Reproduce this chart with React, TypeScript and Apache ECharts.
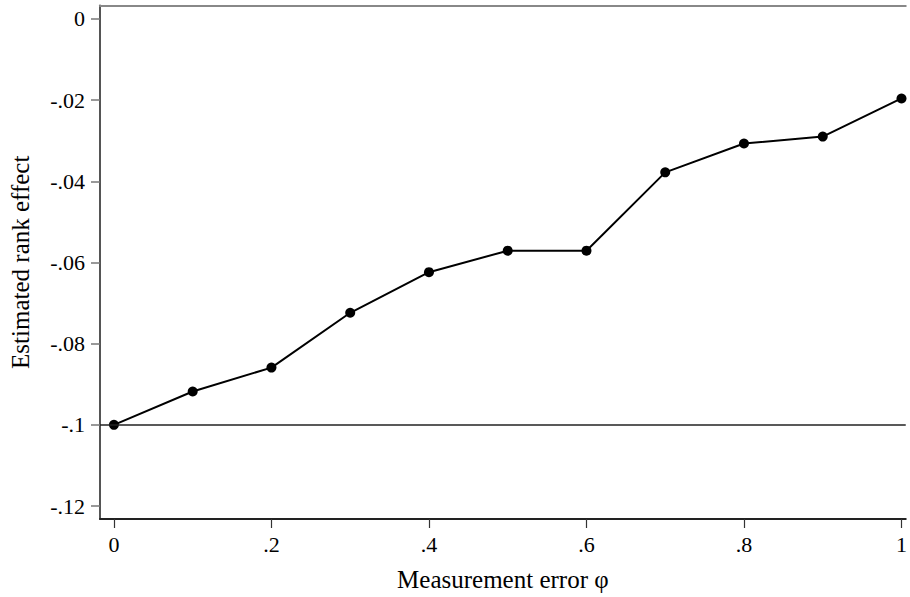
import React, { useEffect, useRef } from "react";
import * as echarts from "echarts";

const xValues = [0, 0.1, 0.2, 0.3, 0.4, 0.5, 0.6, 0.7, 0.8, 0.9, 1.0];
const yValues = [-0.1, -0.0918, -0.0859, -0.0724, -0.0624, -0.0571, -0.0571, -0.0378, -0.0307, -0.029, -0.0196];
const xTicks = [0, 0.2, 0.4, 0.6, 0.8, 1];
const yTicks = [0, -0.02, -0.04, -0.06, -0.08, -0.1, -0.12];
const refLine = -0.1;
const xTitle = "Measurement error φ";
const yTitle = "Estimated rank effect";

const fmt = (v: number) => {
  const r = Math.round(v * 1000) / 1000;
  if (r === 0) return "0";
  let s = String(r);
  s = s.replace(/^(-?)0\./, "$1.");
  return s;
};

const FONT = "'Liberation Serif', 'Times New Roman', serif";

export default function App() {
  const ref = useRef<HTMLDivElement>(null);
  useEffect(() => {
    if (!ref.current) return;
    const chart = echarts.init(ref.current, null, { renderer: "svg" });
    chart.setOption({
      animation: false,
      backgroundColor: "#fff",
      grid: { left: 100, top: 5.5, right: 0, bottom: 74, containLabel: false },
      xAxis: [
        {
          type: "value",
          min: -0.0177,
          max: 1.0054,
          name: xTitle,
          nameLocation: "middle",
          nameGap: 48,
          nameTextStyle: { fontFamily: FONT, fontSize: 25, color: "#000" },
          splitLine: { show: false },
          axisLine: { show: true, onZero: false, lineStyle: { color: "#222", width: 2 } },
          axisTick: { show: true, length: 9, customValues: xTicks, lineStyle: { color: "#333", width: 1.2 } },
          axisLabel: {
            customValues: xTicks,
            formatter: (v: number) => fmt(v),
            fontFamily: FONT,
            fontSize: 22,
            color: "#000",
            margin: 14,
          },
        },
        {
          type: "value",
          position: "top",
          min: -0.0177,
          max: 1.0054,
          splitLine: { show: false },
          axisLine: { show: true, onZero: false, lineStyle: { color: "#888", width: 2 } },
          axisTick: { show: false },
          axisLabel: { show: false },
        },
      ],
      yAxis: {
        type: "value",
        min: -0.1232,
        max: 0.0033,
        name: yTitle,
        nameLocation: "middle",
        nameGap: 67,
        nameTextStyle: { fontFamily: FONT, fontSize: 25, color: "#000" },
        splitLine: { show: false },
        axisLine: { show: true, onZero: false, lineStyle: { color: "#555", width: 2 } },
        axisTick: { show: true, length: 9, customValues: yTicks, lineStyle: { color: "#777", width: 1.5 } },
        axisLabel: {
          customValues: yTicks,
          formatter: (v: number) => fmt(v),
          fontFamily: FONT,
          fontSize: 22,
          color: "#000",
          margin: 15,
        },
      },
      series: [
        {
          type: "line",
          xAxisIndex: 0,
          data: xValues.map((x, i) => [x, yValues[i]]),
          symbol: "circle",
          symbolSize: 10,
          itemStyle: { color: "#000" },
          lineStyle: { color: "#000", width: 2 },
          markLine: {
            silent: true,
            symbol: "none",
            label: { show: false },
            lineStyle: { color: "#222", width: 1.5, type: "solid" },
            data: [{ yAxis: refLine }],
          },
          z: 3,
        },
      ],
    });
    return () => chart.dispose();
  }, []);
  return <div ref={ref} style={{ width: 910, height: 597, position: "absolute", left: 0, top: 0 }} />;
}
